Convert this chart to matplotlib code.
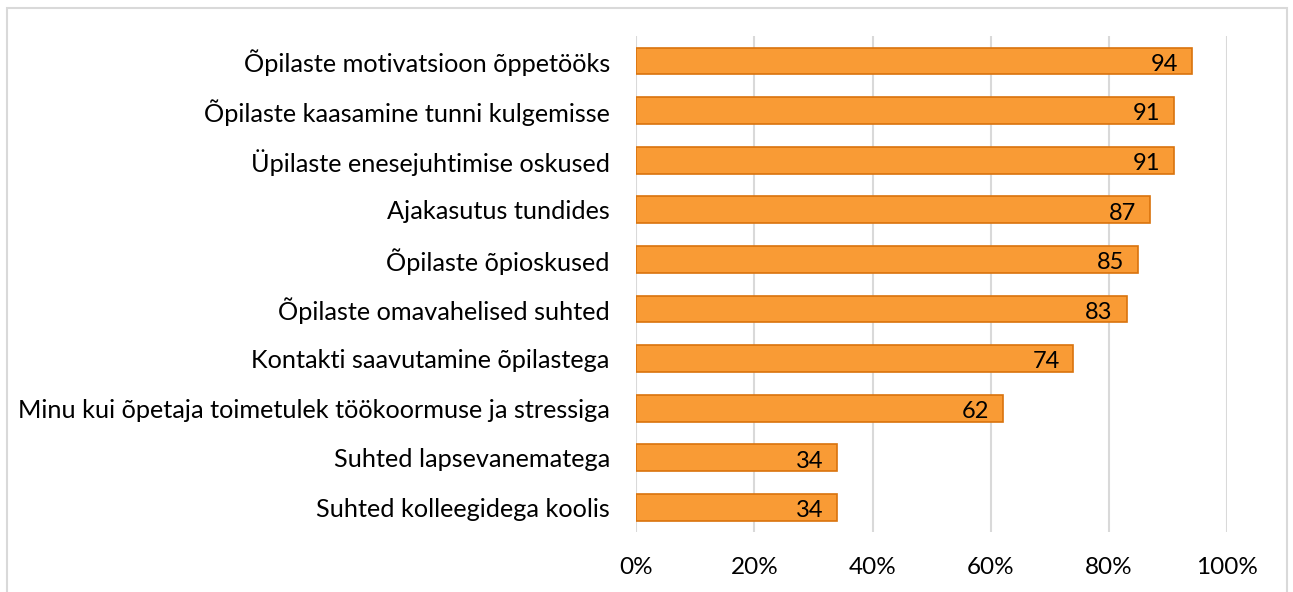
import matplotlib.pyplot as plt
from matplotlib.patches import Rectangle

categories = [
    'Õpilaste motivatsioon õppetööks',
    'Õpilaste kaasamine tunni kulgemisse',
    'Üpilaste enesejuhtimise oskused',
    'Ajakasutus tundides',
    'Õpilaste õpioskused',
    'Õpilaste omavahelised suhted',
    'Kontakti saavutamine õpilastega',
    'Minu kui õpetaja toimetulek töökoormuse ja stressiga',
    'Suhted lapsevanematega',
    'Suhted kolleegidega koolis',
]
values = [94, 91, 91, 87, 85, 83, 74, 62, 34, 34]
xticks = [0, 20, 40, 60, 80, 100]

plt.rcParams['font.family'] = ['Lato', 'DejaVu Sans']

fig = plt.figure(figsize=(12.93, 5.92), dpi=100)
ax = fig.add_axes([0.492, 0.101, 0.457, 0.838])

pos = list(range(len(categories)))[::-1]
ax.barh(pos, values, height=0.54, color='#F99B35', edgecolor='#D9730D', linewidth=1.2, zorder=3)

for p, v in zip(pos, values):
    ax.annotate(str(v), xy=(v, p), xytext=(-10, -1), textcoords='offset points',
                ha='right', va='center_baseline', fontsize=17, color='black', zorder=4)

ax.set_xlim(0, 100)
ax.set_ylim(-0.5, len(categories) - 0.5)
ax.set_yticks(pos)
ax.set_yticklabels(categories, fontsize=18.2, va='center_baseline')
ax.set_xticks(xticks)
ax.set_xticklabels([f'{t}%' for t in xticks], fontsize=17.5)
ax.tick_params(axis='both', length=0)
ax.tick_params(axis='y', pad=19)
ax.tick_params(axis='x', pad=18)
ax.xaxis.grid(True, color='#D9D9D9', linewidth=1.5, zorder=0)
for s in ax.spines.values():
    s.set_visible(False)

fig.patches.append(Rectangle((7 / 1293, -0.01), 1280 / 1293, 1 - 8 / 592 + 0.01,
                             transform=fig.transFigure, fill=False,
                             edgecolor='#D9D9D9', linewidth=1.5))

fig.savefig('out.png', dpi=100)
